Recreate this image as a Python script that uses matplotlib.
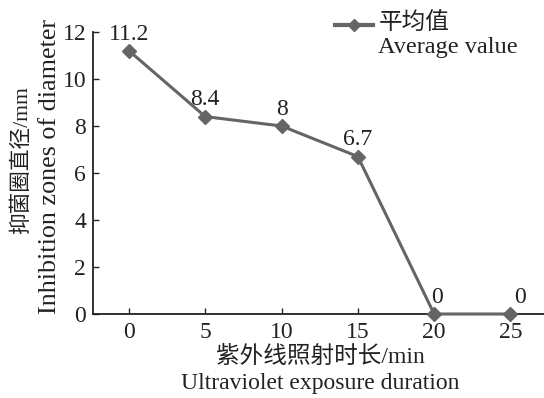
import matplotlib
matplotlib.use("Agg")
import matplotlib.pyplot as plt
from matplotlib.lines import Line2D

durations = [0, 5, 10, 15, 20, 25]
values = [11.2, 8.4, 8, 6.7, 0, 0]
value_labels = ["11.2", "8.4", "8", "6.7", "0", "0"]
label_dx = [0, 0, 0, 0, 3, 10]
yticks = [0, 2, 4, 6, 8, 10, 12]

plt.rcParams['font.family'] = ['Liberation Serif', 'Noto Sans CJK SC']

FS = 17
TC = '#222222'
W, H = 544, 398
fig = plt.figure(figsize=(5.44, 3.98), dpi=100)
ax = fig.add_axes([93 / W, 1 - 314 / H, (W - 93) / W, (314 - 32) / H])
color = '#656565'
line, = ax.plot(durations, values, color=color, lw=2.2, marker='D', ms=7, mec=color, mfc=color,
                clip_on=False, zorder=3)
ax.set_xlim(-2.36, 27.2)
ax.set_ylim(0, 12)
ax.set_xticks(durations)
ax.set_yticks(yticks)
for s in ['top', 'right']:
    ax.spines[s].set_visible(False)
for s in ['left', 'bottom']:
    ax.spines[s].set_linewidth(1.3)
    ax.spines[s].set_color(TC)
ax.tick_params(direction='in', length=4, width=1, labelsize=FS, colors=TC)
ax.tick_params(axis='x', pad=6)
ax.tick_params(axis='y', pad=5)

for x, y, t, dx in zip(durations, values, value_labels, label_dx):
    ax.annotate(t, (x, y), xytext=(dx * 0.72, 12), textcoords='offset points',
                ha='center', va='center', fontsize=FS, color=TC)

# x label (two lines)
fig.text(320 / W, 1 - 357 / H, "紫外线照射时长/min", fontsize=FS, color=TC, ha='center', va='center')
fig.text(320 / W, 1 - 383 / H, "Ultraviolet exposure duration", fontsize=FS, color=TC, ha='center', va='center')
# y label (two lines)
fig.text(22 / W, 1 - 160 / H, "抑菌圈直径/mm", fontsize=15.6, color=TC, ha='center', va='center', rotation=90)
fig.text(50 / W, 1 - 166 / H, "Inhibition zones of diameter", fontsize=18.8, color=TC, ha='center', va='center', rotation=90)

# legend
fig.add_artist(Line2D([335 / W, 373 / W], [1 - 25 / H, 1 - 25 / H], color=color, lw=3,
                      transform=fig.transFigure))
fig.add_artist(Line2D([354 / W], [1 - 25 / H], color=color, marker='D', ms=6, mec=color, mfc=color,
                      ls='none', transform=fig.transFigure))
fig.text(379 / W, 1 - 24 / H, "平均值", fontsize=FS, color=TC, ha='left', va='center')
fig.text(378 / W, 1 - 47 / H, "Average value", fontsize=17.5, color=TC, ha='left', va='center')

fig.savefig("out.png", dpi=100)
